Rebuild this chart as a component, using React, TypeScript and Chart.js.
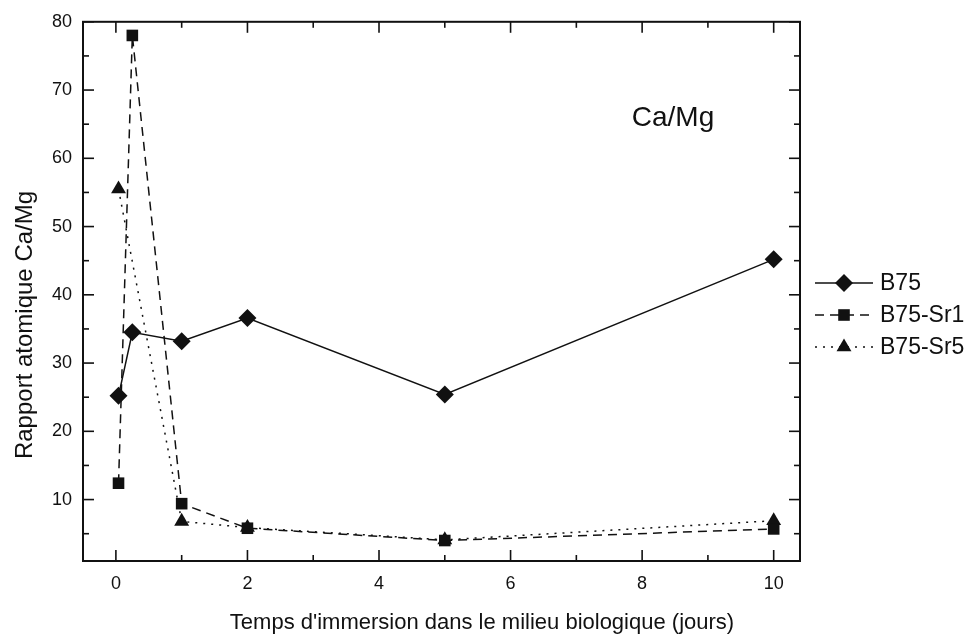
import React, { useEffect, useRef } from 'react';
import { Chart, registerables } from 'chart.js';

Chart.register(...registerables);

// ---- data ----
const seriesNames = ['B75', 'B75-Sr1', 'B75-Sr5'];
const daysB75 = [0.04, 0.25, 1, 2, 5, 10];
const ratioB75 = [25.2, 34.5, 33.2, 36.6, 25.4, 45.2];
const daysSr1 = [0.04, 0.25, 1, 2, 5, 10];
const ratioSr1 = [12.4, 78.0, 9.4, 5.8, 4.0, 5.7];
const daysSr5 = [0.04, 1, 2, 5, 10];
const ratioSr5 = [55.5, 6.8, 5.9, 4.1, 6.9];

const xMajorTicks = [0, 2, 4, 6, 8, 10];
const xMinorTicks = [1, 3, 5, 7, 9];
const yMajorTicks = [10, 20, 30, 40, 50, 60, 70, 80];
const yMinorTicks = [5, 15, 25, 35, 45, 55, 65, 75];

const xTitle = "Temps d'immersion dans le milieu biologique (jours)";
const yTitle = 'Rapport atomique Ca/Mg';
const panelLabel = 'Ca/Mg';

// ---- layout / style ----
const X_MIN = -0.5;
const X_MAX = 10.4;
const Y_MIN = 1;
const Y_MAX = 80;
const FONT = "'Liberation Sans', Arial, Helvetica, sans-serif";
const INK = '#111111';

const pointStyles = ['rectRot', 'rect', 'triangle'];
const pointRadii = [9, 8.2, 8.6];
const dashes: number[][] = [[], [9, 6], [2, 6]];

function toPoints(xs: number[], ys: number[]) {
  return xs.map((x, i) => ({ x, y: ys[i] }));
}

function drawMarker(ctx: CanvasRenderingContext2D, style: string, x: number, y: number, r: number) {
  ctx.beginPath();
  if (style === 'rectRot') {
    ctx.moveTo(x - r, y);
    ctx.lineTo(x, y - r);
    ctx.lineTo(x + r, y);
    ctx.lineTo(x, y + r);
  } else if (style === 'rect') {
    const s = r * Math.SQRT1_2;
    ctx.rect(x - s, y - s, 2 * s, 2 * s);
  } else {
    const a = (2 * Math.PI) / 3;
    ctx.moveTo(x, y - r);
    ctx.lineTo(x + Math.sin(a) * r, y - Math.cos(a) * r);
    ctx.lineTo(x + Math.sin(2 * a) * r, y - Math.cos(2 * a) * r);
  }
  ctx.closePath();
  ctx.fill();
}

const decorPlugin = {
  id: 'originDecor',
  afterDraw(chart: any) {
    const { ctx, chartArea: a, scales } = chart;
    const xs = scales.x;
    const ys = scales.y;
    ctx.save();
    ctx.strokeStyle = INK;
    ctx.fillStyle = INK;
    const line = (x1: number, y1: number, x2: number, y2: number) => {
      ctx.beginPath();
      ctx.moveTo(x1, y1);
      ctx.lineTo(x2, y2);
      ctx.stroke();
    };
    ctx.lineWidth = 1.6;
    const xTick = (v: number, len: number) => {
      const p = xs.getPixelForValue(v);
      line(p, a.bottom, p, a.bottom - len);
      line(p, a.top, p, a.top + len);
    };
    const yTick = (v: number, len: number) => {
      const p = ys.getPixelForValue(v);
      line(a.left, p, a.left + len, p);
      line(a.right, p, a.right - len, p);
    };
    xMajorTicks.forEach((v) => xTick(v, 11));
    xMinorTicks.forEach((v) => xTick(v, 6));
    yMajorTicks.forEach((v) => yTick(v, 11));
    yMinorTicks.forEach((v) => yTick(v, 6));

    ctx.lineWidth = 2;
    ctx.strokeRect(a.left, a.top, a.right - a.left, a.bottom - a.top);

    // axis titles
    ctx.textAlign = 'center';
    ctx.textBaseline = 'middle';
    ctx.font = `22px ${FONT}`;
    ctx.fillText(xTitle, 482, 623);

    ctx.save();
    ctx.translate(25, 325);
    ctx.rotate(-Math.PI / 2);
    ctx.font = `24px ${FONT}`;
    ctx.fillText(yTitle, 0, 0);
    ctx.restore();

    // panel label
    ctx.font = `28px ${FONT}`;
    ctx.fillText(panelLabel, 673, 118);

    // legend
    const legendY = [283, 315, 347];
    ctx.textAlign = 'left';
    ctx.font = `23px ${FONT}`;
    seriesNames.forEach((name, i) => {
      const y = legendY[i];
      ctx.save();
      ctx.lineWidth = 1.5;
      ctx.setLineDash(dashes[i]);
      line(815, y, 873, y);
      ctx.restore();
      drawMarker(ctx, pointStyles[i], 844, y, pointRadii[i]);
      ctx.fillText(name, 880, y + 1);
    });
    ctx.restore();
  },
};

export default function App() {
  const canvasRef = useRef<HTMLCanvasElement | null>(null);

  useEffect(() => {
    const canvas = canvasRef.current;
    if (!canvas) return;
    const series = [
      toPoints(daysB75, ratioB75),
      toPoints(daysSr1, ratioSr1),
      toPoints(daysSr5, ratioSr5),
    ];
    const chart = new Chart(canvas, {
      type: 'scatter',
      data: {
        datasets: series.map((data, i) => ({
          label: seriesNames[i],
          data,
          showLine: true,
          tension: 0,
          borderColor: INK,
          borderWidth: 1.5,
          borderDash: dashes[i],
          pointStyle: pointStyles[i] as any,
          pointRadius: pointRadii[i],
          pointBackgroundColor: INK,
          pointBorderColor: INK,
          pointBorderWidth: 0,
          clip: false as any,
        })),
      },
      options: {
        animation: false,
        responsive: false,
        devicePixelRatio: 1,
        layout: { padding: { left: 0, right: 176, top: 20, bottom: 0 }, autoPadding: false },
        plugins: { legend: { display: false }, tooltip: { enabled: false } },
        scales: {
          x: {
            type: 'linear',
            min: X_MIN,
            max: X_MAX,
            grid: { display: false, drawTicks: false },
            border: { display: false },
            afterBuildTicks: (s: any) => {
              s.ticks = xMajorTicks.map((v) => ({ value: v }));
            },
            afterFit: (s: any) => {
              s.height = 81;
            },
            ticks: {
              color: INK,
              font: { family: FONT, size: 18 },
              padding: 12,
              maxRotation: 0,
              autoSkip: false,
            },
          },
          y: {
            type: 'linear',
            min: Y_MIN,
            max: Y_MAX,
            grid: { display: false, drawTicks: false },
            border: { display: false },
            afterBuildTicks: (s: any) => {
              s.ticks = yMajorTicks.map((v) => ({ value: v }));
            },
            afterFit: (s: any) => {
              s.width = 83;
            },
            ticks: {
              color: INK,
              font: { family: FONT, size: 18 },
              padding: 11,
              autoSkip: false,
            },
          },
        },
      },
      plugins: [decorPlugin],
    });
    return () => chart.destroy();
  }, []);

  return (
    <div style={{ position: 'fixed', left: 0, top: 0, width: 976, height: 642, background: '#fff' }}>
      <canvas ref={canvasRef} width={976} height={642} style={{ width: 976, height: 642, display: 'block' }} />
    </div>
  );
}
